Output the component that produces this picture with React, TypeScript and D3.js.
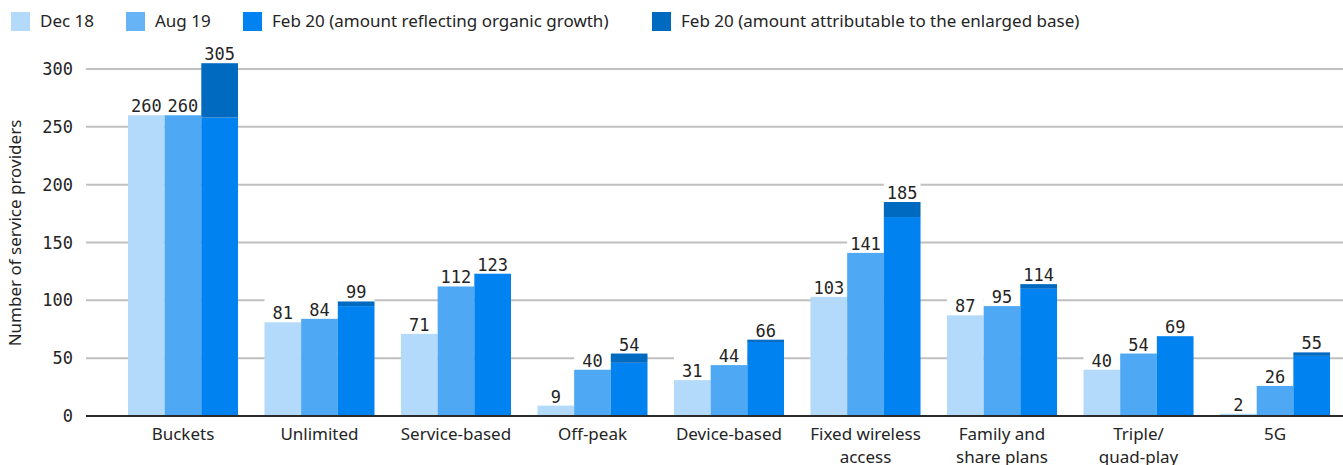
import React from "react";
import * as d3 from "d3";

const categories = ["Buckets", "Unlimited", "Service-based", "Off-peak", "Device-based", "Fixed wireless access", "Family and share plans", "Triple/ quad-play", "5G"];
const categoryLines = [["Buckets"], ["Unlimited"], ["Service-based"], ["Off-peak"], ["Device-based"], ["Fixed wireless", "access"], ["Family and", "share plans"], ["Triple/", "quad-play"], ["5G"]];
const dec18 = [260, 81, 71, 9, 31, 103, 87, 40, 2];
const aug19 = [260, 84, 112, 40, 44, 141, 95, 54, 26];
const feb20Organic = [258, 95, 123, 46, 64, 172, 110, 69, 52];
const feb20Enlarged = [47, 4, 0, 8, 2, 13, 4, 0, 3];
const yTicks = [0, 50, 100, 150, 200, 250, 300];
const legendLabels = ["Dec 18", "Aug 19", "Feb 20 (amount reflecting organic growth)", "Feb 20 (amount attributable to the enlarged base)"];
const yTitle = "Number of service providers";

const W = 1343;
const H = 465;
const C_DEC = "#b3dafa";
const C_AUG = "#4ea8f3";
const C_FEB = "#0082f0";
const C_ENL = "#0069c0";
const legendColors = [C_DEC, "#66b4f6", C_FEB, C_ENL];
const TEXT = "#242424";
const MONO = "'DejaVu Sans Mono', monospace";
const SANS = "'Noto Sans', 'Open Sans', sans-serif";

export default function App() {
  const y = d3.scaleLinear().domain([0, 300]).range([416, 69]);
  const x0 = d3.scaleBand<string>().domain(categories).range([84, 1374]).paddingInner(0.194).paddingOuter(0.322);
  const x1 = d3.scaleBand<number>().domain([0, 1, 2]).range([0, x0.bandwidth()]).padding(0);
  const bw = x1.bandwidth();
  const legendX = [11, 126, 243, 652];

  type Col = { cx: number; x: number; top: number; label: number };
  const cols: Col[] = [];
  categories.forEach((c, i) => {
    const gx = x0(c)!;
    const tot = feb20Organic[i] + feb20Enlarged[i];
    [dec18[i], aug19[i], tot].forEach((v, k) => {
      const x = gx + x1(k)!;
      cols.push({ cx: x + bw / 2, x, top: y(v), label: v });
    });
  });

  return (
    <svg width={W} height={H} style={{ position: "absolute", left: 0, top: 0, background: "#fff" }}>
      {/* legend */}
      {legendLabels.map((l, i) => (
        <g key={l}>
          <rect x={legendX[i]} y={12} width={19} height={19} fill={legendColors[i]} />
          <text x={legendX[i] + 29} y={27} fontFamily={SANS} fontSize={17} fill={TEXT}>{l}</text>
        </g>
      ))}
      {/* gridlines */}
      {yTicks.filter((t) => t !== 0).map((t) => (
        <line key={t} x1={86} x2={W} y1={y(t)} y2={y(t)} stroke="#c0c0c0" strokeWidth={2} />
      ))}
      {/* y tick labels */}
      {yTicks.map((t) => (
        <text key={t} x={73} y={y(t) + 6} textAnchor="end" fontFamily={MONO} fontSize={17} fill={TEXT}>{t}</text>
      ))}
      {/* y title */}
      <text transform={`translate(21,233) rotate(-90)`} textAnchor="middle" fontFamily={SANS} fontSize={17} fill={TEXT}>{yTitle}</text>
      {/* label background boxes */}
      {cols.map((c, i) => (
        <rect key={"b" + i} x={c.x} y={c.top - 24} width={bw} height={24} fill="#fff" />
      ))}
      {/* bars */}
      {categories.map((c, i) => {
        const gx = x0(c)!;
        return (
          <g key={c}>
            <rect x={gx + x1(0)!} y={y(dec18[i])} width={bw} height={y(0) - y(dec18[i])} fill={C_DEC} />
            <rect x={gx + x1(1)!} y={y(aug19[i])} width={bw} height={y(0) - y(aug19[i])} fill={C_AUG} />
            <rect x={gx + x1(2)!} y={y(feb20Organic[i])} width={bw} height={y(0) - y(feb20Organic[i])} fill={C_FEB} />
            <rect x={gx + x1(2)!} y={y(feb20Organic[i] + feb20Enlarged[i])} width={bw} height={y(feb20Organic[i]) - y(feb20Organic[i] + feb20Enlarged[i])} fill={C_ENL} />
          </g>
        );
      })}
      {/* value labels */}
      {cols.map((c, i) => (
        <text key={"l" + i} x={c.cx} y={c.top - 3} textAnchor="middle" fontFamily={MONO} fontSize={17} fill={TEXT}>{c.label}</text>
      ))}
      {/* zero line */}
      <line x1={86} x2={W} y1={y(0)} y2={y(0)} stroke="#2a2a2a" strokeWidth={2} />
      {/* category labels */}
      {categories.map((c, i) => (
        <text key={"c" + c} x={x0(c)! + x0.bandwidth() / 2} y={440} textAnchor="middle" fontFamily={SANS} fontSize={17} fill={TEXT}>
          {categoryLines[i].map((ln, j) => (
            <tspan key={j} x={x0(c)! + x0.bandwidth() / 2} dy={j === 0 ? 0 : 23}>{ln}</tspan>
          ))}
        </text>
      ))}
    </svg>
  );
}
